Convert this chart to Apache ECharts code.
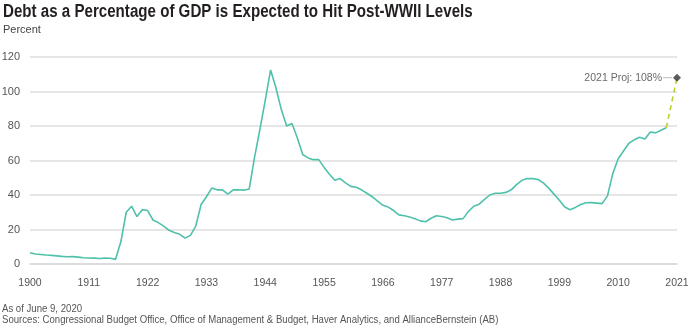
<!DOCTYPE html>
<html>
<head>
<meta charset="utf-8">
<script src="https://cdn.jsdelivr.net/npm/echarts@6/dist/echarts.min.js"></script>
<style>html,body{margin:0;padding:0;background:#fff}#c{width:690px;height:328px}</style>
</head>
<body>
<div id="c"></div>
<script>
// Years 1900..2021 (category axis)
const years = [];
for (let y = 1900; y <= 2021; y++) years.push(String(y));

// Debt as % of GDP, 1900..2019
const debtValues = [
  6.5, 5.8, 5.5, 5.2, 5.0, 4.7, 4.4, 4.2, 4.3, 4.0,
  3.6, 3.5, 3.4, 3.2, 3.4, 3.3, 2.7, 13.0, 30.0, 33.5,
  27.5, 31.5, 31.0, 25.5, 24.0, 22.0, 19.5, 18.2, 17.2, 15.0,
  16.6, 22.0, 34.5, 39.0, 44.0, 43.0, 43.0, 40.5, 43.0, 43.0,
  42.8, 43.5, 62.0, 78.0, 95.0, 112.5, 102.0, 89.5, 80.0, 81.5,
  73.0, 63.5, 61.5, 60.5, 60.5, 56.0, 52.0, 48.5, 49.5, 47.0,
  45.0, 44.5, 43.0, 41.0, 39.0, 36.5, 34.0, 33.0, 31.0, 28.5,
  28.0, 27.2, 26.2, 25.0, 24.5, 26.5, 28.0, 27.5, 26.8, 25.5,
  26.0, 26.3, 30.5, 33.5, 34.7, 37.5, 40.0, 41.0, 41.0, 41.5,
  43.0, 46.0, 48.5, 49.5, 49.5, 49.0, 47.0, 44.0, 40.5, 37.0,
  33.0, 31.5, 32.8, 34.5, 35.5, 35.6, 35.3, 35.0, 39.5, 52.5,
  61.0, 65.5, 70.0, 72.0, 73.5, 72.5, 76.5, 76.0, 77.5, 79.0
];

// Projection: last actual (2019) to 2021 projection
const projYears = ['2019', '2021'];
const projValues = [79.0, 108.0];
const projLabel = '2021 Proj: 108%';

const yTicks = [0, 20, 40, 60, 80, 100, 120];

const actualSeries = years.map((y, i) => i < debtValues.length ? debtValues[i] : null);
const projSeries = years.map(y => {
  const k = projYears.indexOf(y);
  return k >= 0 ? projValues[k] : null;
});
const markerSeries = years.map(y => y === projYears[1] ? projValues[1] : null);

const FONT = '"Liberation Sans", Arial, sans-serif';

const chart = echarts.init(document.getElementById('c'), null, {renderer: 'canvas'});
chart.setOption({
  animation: false,
  backgroundColor: '#fff',
  textStyle: {fontFamily: FONT},
  grid: {left: 30, right: 13, top: 57, bottom: 64, outerBoundsMode: 'none', containLabel: false},
  xAxis: {
    type: 'category', data: years, boundaryGap: false,
    axisLine: {show: true, lineStyle: {color: '#d9d9d9', width: 1.5}},
    axisTick: {show: false},
    axisLabel: {interval: 10, color: '#555', fontSize: 10.5, margin: 14, fontFamily: FONT},
    splitLine: {show: false}
  },
  yAxis: {
    type: 'value', min: yTicks[0], max: yTicks[yTicks.length - 1], interval: 20,
    axisLine: {show: false}, axisTick: {show: false},
    axisLabel: {color: '#555', fontSize: 11, margin: 10, fontFamily: FONT},
    splitLine: {lineStyle: {color: '#dedede', width: 1.5}}
  },
  series: [
    {type: 'line', data: actualSeries, showSymbol: false, symbol: 'none',
     lineStyle: {color: '#4fc1ab', width: 1.6}, z: 3},
    {type: 'line', data: projSeries, connectNulls: true, showSymbol: false, symbol: 'none',
     lineStyle: {color: '#bcd02f', width: 1.6, type: [5, 4]}, z: 2},
    {type: 'scatter', data: markerSeries, symbol: 'diamond', symbolSize: 8,
     itemStyle: {color: '#333'}, z: 4,
     label: {show: true, position: 'left', distance: 1,
       formatter: '{t|' + projLabel + '}{l|}',
       rich: {
         t: {fontFamily: FONT, fontSize: 10.5, color: '#444', padding: [0, 1, 0, 0]},
         l: {width: 9, height: 1, backgroundColor: '#aaa'}
       }}}
  ],
  graphic: [
    {type: 'text', left: 3, top: 3, scaleX: 0.84,
     style: {text: 'Debt as a Percentage of GDP is Expected to Hit Post-WWII Levels', fill: '#231f20', font: 'bold 18px ' + FONT}},
    {type: 'text', left: 3, top: 24,
     style: {text: 'Percent', fill: '#444', font: '11px ' + FONT}},
    {type: 'text', left: 2, top: 304, scaleX: 0.96,
     style: {text: 'As of June 9, 2020', fill: '#555', font: '10px ' + FONT}},
    {type: 'text', left: 2, top: 315, scaleX: 0.96,
     style: {text: 'Sources: Congressional Budget Office, Office of Management & Budget, Haver Analytics, and AllianceBernstein (AB)', fill: '#555', font: '10px ' + FONT}}
  ]
});
</script>
</body>
</html>
